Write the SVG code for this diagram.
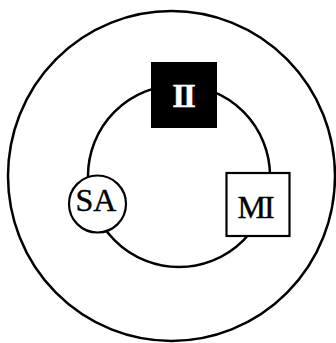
<svg xmlns="http://www.w3.org/2000/svg" width="336" height="343" viewBox="0 0 336 343">
<style>
.ring{fill:none;stroke:#000;stroke-width:2.5}
.node{fill:#fff;stroke:#000;stroke-width:2.2}
.lbl{font-family:"Liberation Serif","Times New Roman",serif;font-size:32px;text-anchor:middle;fill:#000;stroke:#000;stroke-width:0.4}
</style>
<rect width="336" height="343" fill="#fff"/>
<g id="connectors">
<ellipse class="ring" cx="171.5" cy="176" rx="163.5" ry="165"/>
<circle class="ring" cx="179" cy="176" r="91"/>
</g>
<g id="II">
<rect x="151" y="62" width="66" height="66" fill="#000"/>
<text class="lbl" x="183" y="107" letter-spacing="-2" style="font-weight:bold;fill:#fff;stroke:#fff;font-size:33px">II</text>
</g>
<g id="SA">
<circle class="node" cx="97.5" cy="204" r="28.5"/>
<text class="lbl" x="96" y="211">SA</text>
</g>
<g id="MI">
<rect class="node" x="226.5" y="173" width="63" height="63"/>
<text class="lbl" x="255" y="218" letter-spacing="-2">MI</text>
</g>
</svg>
